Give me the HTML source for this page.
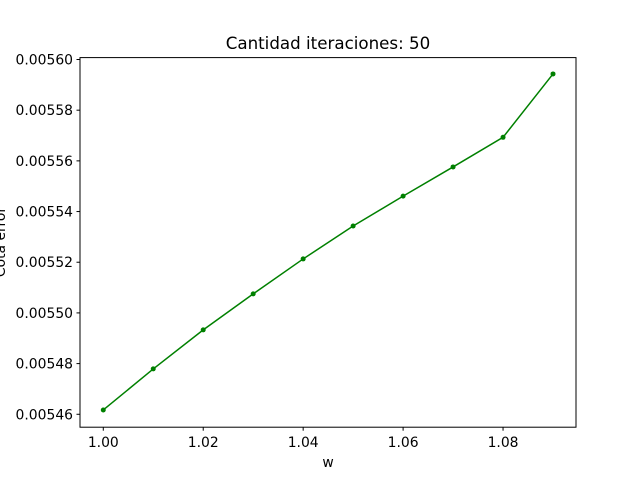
<!DOCTYPE html>
<html><head><meta charset="utf-8"><style>
body{margin:0;background:#fff;}
svg text{font-family:"DejaVu Sans","Liberation Sans",sans-serif;fill:#000;}
</style></head><body>
<svg id="chart" width="640" height="480" xmlns="http://www.w3.org/2000/svg">
<rect width="640" height="480" fill="#fff"/>
<text x="328" y="49" font-size="16.7" text-anchor="middle">Cantidad iteraciones: 50</text>
<text x="328" y="467" font-size="13.9" text-anchor="middle">w</text>
<text transform="translate(1,242) rotate(-90)" font-size="13.9" text-anchor="middle" dominant-baseline="central">Cota error</text>
<g id="ticks"></g>
<g id="marks"></g>
<rect x="80" y="57.6" width="496" height="369.6" fill="none" stroke="#000" stroke-width="1"/>
</svg>
<script>
const xValues=[1.00,1.01,1.02,1.03,1.04,1.05,1.06,1.07,1.08,1.09];
const yValues=[0.0054617,0.0054779,0.0054933,0.0055075,0.0055213,0.0055343,0.0055461,0.0055576,0.0055693,0.0055943];
const xTicks=[1.00,1.02,1.04,1.06,1.08];
const yTicks=[0.00546,0.00548,0.00550,0.00552,0.00554,0.00556,0.00558,0.00560];
const X0=80,X1=576,Y0=427.2,Y1=57.6;
const xMin=0.99534,xMax=1.0946,yMin=0.0054549,yMax=0.00560075;
function sx(v){return X0+(v-xMin)/(xMax-xMin)*(X1-X0);}
function sy(v){return Y0-(v-yMin)/(yMax-yMin)*(Y0-Y1);}
const NS='http://www.w3.org/2000/svg';
const tg=document.getElementById('ticks'),mg=document.getElementById('marks');
function mk(t,a,p){const e=document.createElementNS(NS,t);for(const k in a)e.setAttribute(k,a[k]);p.appendChild(e);return e;}
xTicks.forEach(v=>{const x=sx(v);
const l=mk('line',{x1:x,x2:x,y1:Y0,y2:Y0+3.5,stroke:'#000'},tg);


const t=mk('text',{x:x,y:Y0+20,'font-size':13.9,'text-anchor':'middle'},tg);t.textContent=v.toFixed(2);

});
yTicks.forEach(v=>{const y=sy(v);
const l=mk('line',{x1:X0-3.5,x2:X0,y1:y,y2:y,stroke:'#000'},tg);


const t=mk('text',{x:X0-7,y:y+5,'font-size':13.9,'text-anchor':'end'},tg);t.textContent=v.toFixed(5);

});
const pl=mk('polyline',{points:xValues.map((v,i)=>sx(v)+','+sy(yValues[i])).join(' '),fill:'none',stroke:'#008000','stroke-width':1.5},mg);


xValues.forEach((v,i)=>{const c=mk('circle',{cx:sx(v),cy:sy(yValues[i]),r:2.5,fill:'#008000'},mg);

});
</script>
</body></html>
